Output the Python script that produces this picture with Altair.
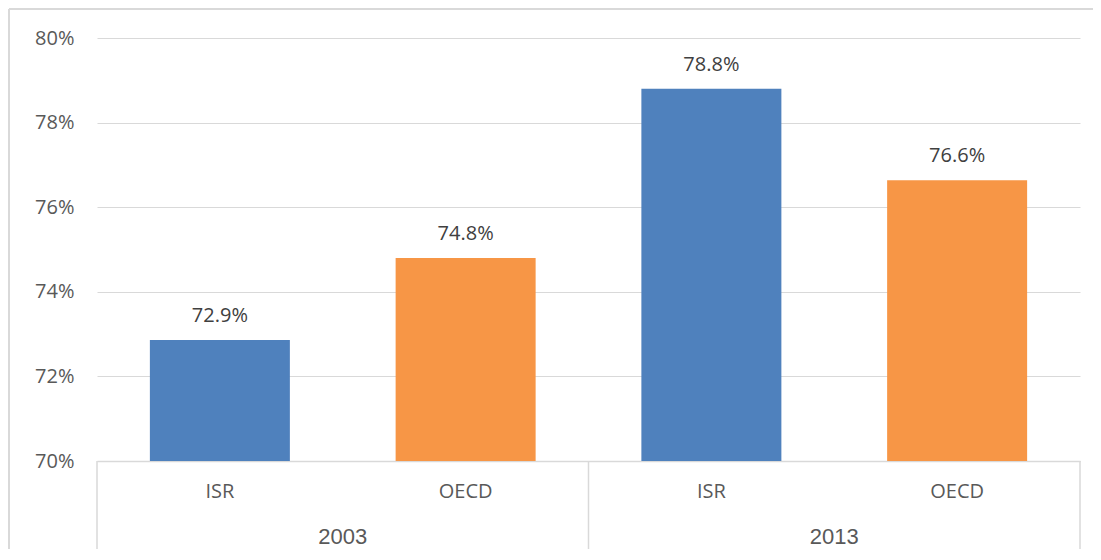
import altair as alt
import pandas as pd

years = ["2003", "2003", "2013", "2013"]
groups = ["ISR", "OECD", "ISR", "OECD"]
values = [72.86, 74.80, 78.80, 76.64]
colors = ["#4F81BD", "#F79646", "#4F81BD", "#F79646"]
year_labels = ["2003", "2013"]
y_ticks = [70, 72, 74, 76, 78, 80]

df = pd.DataFrame({
    "year": years,
    "group": groups,
    "value": values,
    "color": colors,
    "pos": [i + 0.5 for i in range(len(values))],
})
df_years = pd.DataFrame({"year": year_labels, "pos": [1, 3]})
df_sep = pd.DataFrame({"pos": [0, 2, 4]})

W, H = 983, 423
FONT = "Open Sans"
GREY = "#595959"
LINE = "#d9d9d9"

xscale = alt.Scale(domain=[0, 4], nice=False, zero=False, padding=0)
xaxis = alt.Axis(labels=False, ticks=False, grid=False, title=None,
                 domainColor=LINE, domainWidth=1.5)

bars = alt.Chart(df).mark_bar(size=140).encode(
    x=alt.X("pos:Q", scale=xscale, axis=xaxis),
    y=alt.Y("value:Q", scale=alt.Scale(domain=[70, 80], nice=False, zero=False),
            axis=alt.Axis(values=y_ticks, labelExpr="datum.value + '%'", title=None,
                          domain=False, ticks=False, labelPadding=23,
                          labelFont=FONT, labelFontSize=20, labelColor=GREY,
                          gridColor=LINE, gridWidth=1)),
    y2=alt.datum(70),
    color=alt.Color("color:N", scale=None),
)

value_text = alt.Chart(df).transform_calculate(
    label="format(datum.value, '.1f') + '%'"
).mark_text(baseline="bottom", dy=-14, font=FONT, fontSize=20, color="#404040").encode(
    x=alt.X("pos:Q", scale=xscale, axis=xaxis),
    y="value:Q",
    text="label:N",
)

group_text = alt.Chart(df).mark_text(
    baseline="middle", font=FONT, fontSize=20, color=GREY
).encode(
    x=alt.X("pos:Q", scale=xscale, axis=xaxis),
    y=alt.value(H + 31),
    text="group:N",
)

year_text = alt.Chart(df_years).mark_text(
    baseline="middle", font="Liberation Sans", fontSize=22, color=GREY
).encode(
    x=alt.X("pos:Q", scale=xscale, axis=xaxis),
    y=alt.value(H + 76),
    text="year:N",
)

seps = alt.Chart(df_sep).mark_rule(color=LINE, strokeWidth=1.5).encode(
    x=alt.X("pos:Q", scale=xscale, axis=xaxis),
    y=alt.value(H),
    y2=alt.value(H + 90),
)

frame_top = alt.Chart(df_sep).mark_rule(color=LINE, strokeWidth=2).encode(
    x=alt.value(-88), x2=alt.value(W + 13), y=alt.value(-29)
)
frame_left = alt.Chart(df_sep).mark_rule(color=LINE, strokeWidth=2).encode(
    x=alt.value(-88), y=alt.value(-29), y2=alt.value(H + 88)
)

chart = alt.layer(
    frame_top, frame_left, bars, value_text, group_text, year_text, seps
).properties(
    width=W, height=H,
    background="white",
    autosize=alt.AutoSizeParams(type="none"),
    padding={"left": 89, "top": 30, "right": 13, "bottom": 88},
).configure_view(stroke=None, strokeWidth=0)

chart.save("out.html", embed_options={"renderer": "svg", "actions": False})
